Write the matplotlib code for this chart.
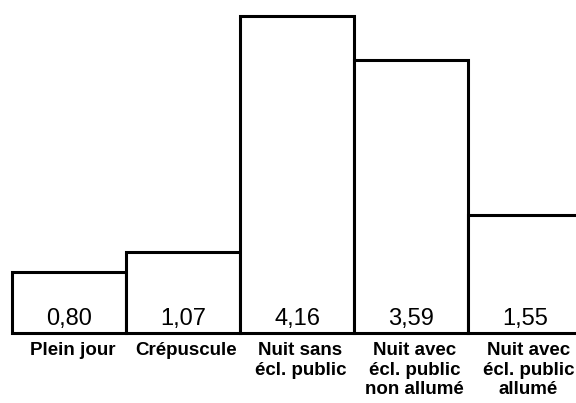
import matplotlib.pyplot as plt

categories = ["Plein jour", "Crépuscule", "Nuit sans\nécl. public",
              "Nuit avec\nécl. public\nnon allumé", "Nuit avec\nécl. public\nallumé"]
values = [0.80, 1.07, 4.16, 3.59, 1.55]
value_labels = ["0,80", "1,07", "4,16", "3,59", "1,55"]

plt.rcParams['font.family'] = ['Liberation Sans', 'DejaVu Sans']

fig = plt.figure(figsize=(5.76, 4.03), dpi=100)
ax = fig.add_axes([0, 0, 1, 1])

x = list(range(len(values)))
ax.bar(x, values, width=1.0, facecolor='white', edgecolor='black',
       linewidth=2.2, clip_on=True)

# value printed inside each bar, just above the baseline
for xi, lab in zip(x, value_labels):
    ax.text(xi, 0.11, lab, ha='center', va='baseline', fontsize=17)

for xi, cat in zip(x, categories):
    ax.text(xi + 0.03, -0.115, cat, ha='center', va='top', fontsize=13.5,
            fontweight='bold', linespacing=1.2)

ax.set_xlim(-0.605, 4.447)
ax.set_ylim(-0.911, 4.371)
ax.axis('off')

fig.savefig('out.png', dpi=100)
